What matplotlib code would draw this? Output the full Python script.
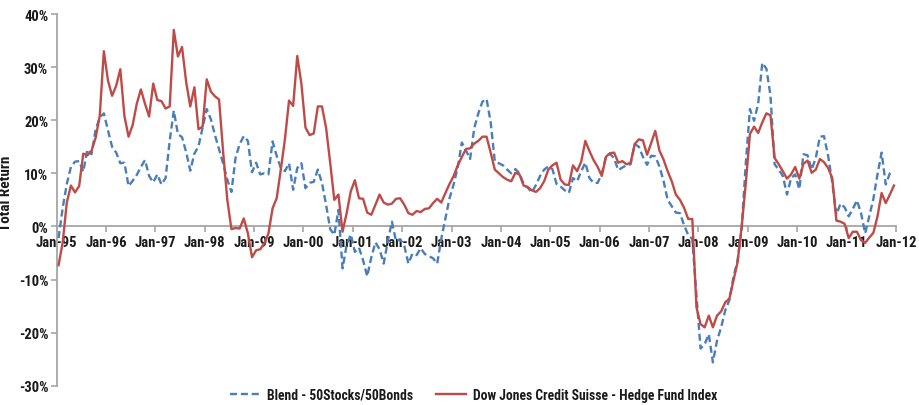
import numpy as np
import matplotlib
matplotlib.use("Agg")
import matplotlib.pyplot as plt
from matplotlib import font_manager
from matplotlib.ticker import FuncFormatter

# Year tick labels (one tick every 12 months)
year_labels = ["Jan-95", "Jan-96", "Jan-97", "Jan-98", "Jan-99", "Jan-00",
               "Jan-01", "Jan-02", "Jan-03", "Jan-04", "Jan-05", "Jan-06",
               "Jan-07", "Jan-08", "Jan-09", "Jan-10", "Jan-11", "Jan-12"]

series_names = ["Blend - 50Stocks/50Bonds",
                "Dow Jones Credit Suisse - Hedge Fund Index"]

# Rolling 12-month total return (%), monthly from Jan-95 to Dec-11
blend = [
    -2.2, 3.5, 8.0, 11.2, 12.2, 12.3, 10.3, 14.5, 13.6, 18.2, 20.5, 21.3,      # 1995
    18.1, 15.0, 13.9, 11.9, 12.0, 7.6, 8.6, 9.7, 11.2, 12.5, 9.5, 8.3,         # 1996
    9.8, 7.9, 9.1, 16.1, 21.8, 17.4, 16.8, 14.0, 10.5, 13.7, 15.1, 18.6,       # 1997
    22.1, 20.2, 17.2, 14.5, 11.8, 8.8, 6.5, 12.9, 15.5, 17.0, 16.1, 10.2,      # 1998
    12.0, 9.8, 10.0, 9.8, 16.0, 13.3, 11.0, 10.4, 11.9, 6.9, 11.0, 11.9,       # 1999
    7.2, 8.2, 8.4, 10.7, 8.2, 4.1, -0.5, -1.6, 3.1, -7.9, -3.5, -1.5,          # 2000
    -4.8, -4.0, -6.4, -9.4, -5.8, -3.0, -4.3, -7.0, -2.8, 0.9, -2.8, -2.4,     # 2001
    -3.6, -7.0, -5.1, -5.4, -4.1, -5.2, -5.6, -6.0, -7.0, -2.3, 1.5, 5.3,      # 2002
    7.9, 11.2, 15.8, 14.3, 12.7, 18.5, 21.3, 23.5, 24.0, 19.6, 12.3, 11.9,     # 2003
    11.5, 10.7, 10.0, 10.8, 10.0, 8.0, 7.3, 6.4, 7.8, 9.5, 10.7, 11.3,         # 2004
    10.8, 8.0, 7.5, 6.8, 6.3, 9.1, 8.5, 10.4, 12.0, 9.1, 8.2, 8.2,             # 2005
    10.0, 13.0, 13.7, 12.8, 10.6, 11.1, 11.5, 11.7, 15.5, 15.0, 13.1, 11.6,    # 2006
    13.3, 13.2, 11.3, 8.6, 5.0, 3.8, 2.6, 2.5, 0.2, -1.6, -2.4, -13.0,         # 2007
    -23.0, -22.2, -20.3, -25.6, -21.5, -19.0, -15.8, -13.9, -9.5, -6.4, -0.3, 12.0,  # 2008
    22.1, 19.9, 23.1, 30.8, 29.7, 24.6, 11.7, 10.7, 9.5, 6.0, 9.1, 9.8,        # 2009
    7.0, 13.6, 13.4, 10.7, 12.9, 16.9, 17.0, 13.3, 8.3, 2.2, 4.3, 3.6,         # 2010
    1.9, 3.3, 4.9, 2.5, -1.3, 1.9, 5.2, 9.8, 13.9, 7.9, 10.0, 10.4,            # 2011
]

hedge_fund = [
    -7.3, -3.0, 4.5, 7.7, 6.4, 7.6, 13.7, 13.4, 14.2, 16.7, 20.8, 33.0,        # 1995
    27.5, 24.6, 26.5, 29.6, 20.8, 16.9, 19.1, 23.1, 25.8, 23.1, 20.7, 26.9,    # 1996
    23.8, 23.6, 22.2, 22.6, 37.0, 32.0, 33.8, 27.2, 22.6, 26.2, 18.3, 18.8,    # 1997
    27.7, 25.4, 24.5, 23.9, 13.9, 5.0, -0.5, -0.3, -0.4, 1.5, -1.3, -5.8,      # 1998
    -4.5, -4.3, -3.2, -1.3, 3.4, 5.3, 10.7, 16.4, 23.7, 22.7, 32.1, 26.9,      # 1999
    18.6, 17.2, 17.5, 22.6, 22.6, 18.6, 12.0, 5.0, 6.0, -1.0, 2.5, 6.6,        # 2000
    8.7, 5.3, 5.2, 2.6, 2.2, 4.1, 6.0, 4.5, 4.1, 4.3, 5.2, 5.3,                # 2001
    4.1, 2.5, 2.2, 2.9, 2.7, 3.3, 3.4, 4.4, 5.2, 4.5, 6.3, 8.0,                # 2002
    9.5, 11.5, 13.1, 14.6, 14.7, 15.6, 16.1, 16.9, 16.9, 13.9, 10.7, 10.0,     # 2003
    9.3, 8.8, 8.5, 10.1, 9.8, 7.7, 7.4, 6.8, 6.5, 7.2, 8.5, 10.7,              # 2004
    11.5, 12.0, 8.8, 7.9, 7.8, 11.5, 10.4, 12.2, 16.1, 14.2, 12.5, 11.2,       # 2005
    9.5, 13.1, 13.8, 13.9, 12.0, 12.3, 11.7, 12.0, 15.5, 16.4, 16.2, 13.5,     # 2006
    15.7, 18.0, 14.3, 12.6, 10.4, 8.5, 6.0, 5.0, 3.5, 1.4, 1.4, -15.2,         # 2007
    -18.4, -19.0, -16.8, -19.0, -16.8, -16.0, -14.3, -13.6, -10.2, -6.7, 0.0, 8.2,  # 2008
    17.4, 18.8, 17.6, 19.6, 21.3, 20.9, 12.9, 11.7, 10.4, 9.0, 9.8, 11.2,      # 2009
    9.0, 11.8, 12.4, 10.1, 10.7, 12.7, 12.1, 11.0, 9.1, 1.1, 0.9, 0.5,         # 2010
    -2.2, -1.0, -1.0, -2.6, -3.1, -2.1, -1.2, 1.9, 6.3, 4.4, 6.0, 7.7,         # 2011
]

# Pick a condensed sans face when one is installed
entries = font_manager.fontManager.ttflist
available = {f.name for f in entries}
stretch = "normal"
family = None
for name in ("Roboto Condensed", "Liberation Sans Narrow", "Open Sans Condensed",
             "Arial Narrow", "Noto Sans Condensed"):
    if name in available:
        family = name
        break
if family is None:
    if any(f.name == "DejaVu Sans" and str(f.stretch) in ("condensed", "semi-condensed")
           for f in entries):
        family, stretch = "DejaVu Sans", "condensed"
    else:
        family = "Roboto"
plt.rcParams["font.family"] = [family, "DejaVu Sans"]
plt.rcParams["font.stretch"] = stretch

tick_fs = 10.5
legend_fs = 9.8
weight = "bold"

text_color = "#1a1a1a"
axis_color = "#a6a6a6"
blue = "#4a7ebb"
red = "#be4b48"

fig = plt.figure(figsize=(9.19, 4.06), dpi=100)
ax = fig.add_axes([0.0615, 0.0475, 0.9135, 0.9155])

x = np.arange(len(blend)) + 0.5
ax.plot(x, blend, color=blue, lw=1.7, ls=(0, (3.0, 1.6)), zorder=3,
        label=series_names[0])
ax.plot(x, hedge_fund, color=red, lw=1.7, zorder=4, label=series_names[1])

ax.set_xlim(0, 12 * (len(year_labels) - 1))
ax.set_ylim(-30, 40)

for side in ("top", "right"):
    ax.spines[side].set_visible(False)
ax.spines["bottom"].set_position(("data", 0))
ax.spines["bottom"].set_color(axis_color)
ax.spines["left"].set_color(axis_color)
ax.spines["bottom"].set_linewidth(1.3)
ax.spines["left"].set_linewidth(1.3)

ax.set_xticks(np.arange(0, 12 * len(year_labels), 12))
ax.set_xticklabels(year_labels)
ax.set_yticks(np.arange(-30, 41, 10))
ax.yaxis.set_major_formatter(FuncFormatter(lambda v, _: f"{v:.0f}%"))

ax.tick_params(axis="x", direction="out", length=4, width=1.2, color=axis_color,
               labelsize=tick_fs, labelcolor=text_color, pad=2)
ax.tick_params(axis="y", direction="out", length=4, width=1.2, color=axis_color,
               labelsize=tick_fs, labelcolor=text_color, pad=2)
for lab in ax.get_xticklabels() + ax.get_yticklabels():
    lab.set_fontweight(weight)

ax.set_ylabel("Total Return", fontsize=tick_fs + 0.5, color=text_color,
              fontweight=weight)
ax.yaxis.set_label_coords(-0.052, 0.52)

leg = fig.legend(loc="lower center", bbox_to_anchor=(0.515, -0.022), ncol=2,
                 frameon=False, fontsize=legend_fs, handlelength=2.2,
                 handletextpad=0.5, columnspacing=1.7, labelcolor=text_color)
for t in leg.get_texts():
    t.set_fontweight(weight)

fig.savefig("out.png", dpi=100)
